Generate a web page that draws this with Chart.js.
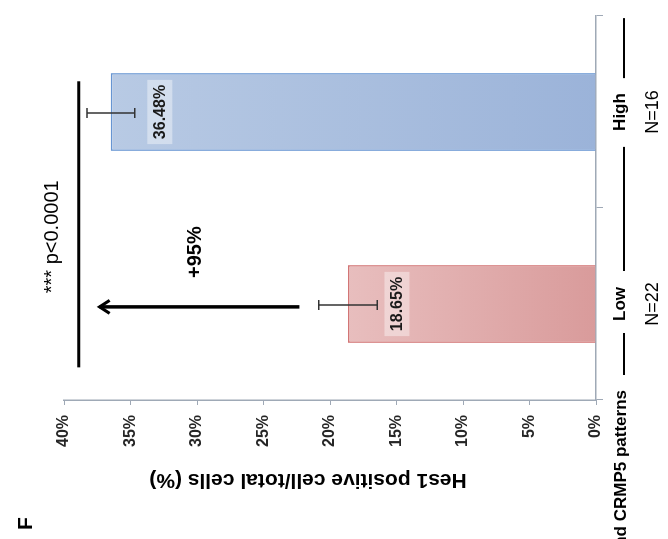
<!DOCTYPE html>
<html lang="en">
<head>
<meta charset="UTF-8">
<title>Hes1 positive cells by CRMP5 pattern</title>
<script src="https://cdn.jsdelivr.net/npm/chart.js"></script>
<style>
  html, body { margin: 0; padding: 0; background: #fff; overflow: hidden; }
  body { width: 668px; height: 539px; position: relative; }
  /* the figure is printed turned a quarter turn, so the chart is drawn upright and rotated */
  #wrap { position: absolute; left: 0; top: 0; width: 539px; height: 668px;
          transform-origin: 0 0; transform: translate(0, 539px) rotate(-90deg); }
</style>
</head>
<body>
<div id="wrap"><canvas id="chart" width="539" height="668"></canvas></div>
<script>
  // data
  const categories = ['Low', 'High'];
  const sampleSizes = ['N=22', 'N=16'];
  const values = [18.65, 36.48];
  const errors = [2.2, 1.8];
  const yMin = 0, yMax = 40, yStep = 5;

  // annotations (value / category units)
  const bracketValue = 38.9, bracketFrom = -0.33, bracketTo = 1.16;
  const pText = '*** p<0.0001', pTextAt = 0.35, pTextValue = 40.9;
  const arrowAt = -0.015, arrowFrom = 22.3, arrowTo = 37.4;
  const gainText = '+95%', gainAt = 0.27, gainValue = 30.15;

  const FONT = '"Liberation Sans", Arial, sans-serif';
  Chart.defaults.font.family = FONT;

  const fills = [['#e8bebe', '#d99b9b'], ['#b8cae4', '#9bb3d9']];
  const borders = ['#d27575', '#6795d2'];

  function barFill(ctx) {
    const chart = ctx.chart;
    const i = ctx.dataIndex;
    if (!chart.chartArea || !chart.scales.y) return fills[i][1];
    const top = chart.scales.y.getPixelForValue(values[i]);
    const g = chart.ctx.createLinearGradient(0, top, 0, chart.chartArea.bottom);
    g.addColorStop(0, fills[i][0]);
    g.addColorStop(1, fills[i][1]);
    return g;
  }

  const extras = {
    id: 'extras',
    afterDatasetsDraw(chart) {
      const { ctx, scales: { x, y } } = chart;
      ctx.save();
      // error bars
      ctx.strokeStyle = '#333';
      ctx.lineWidth = 1.5;
      values.forEach((v, i) => {
        const px = x.getPixelForValue(i) - 1;
        const t = y.getPixelForValue(v + errors[i]);
        const b = y.getPixelForValue(v - errors[i]);
        ctx.beginPath();
        ctx.moveTo(px, t); ctx.lineTo(px, b);
        ctx.moveTo(px - 5, t); ctx.lineTo(px + 5, t);
        ctx.moveTo(px - 5, b); ctx.lineTo(px + 5, b);
        ctx.stroke();
      });
      // value labels
      ctx.font = 'bold 16px ' + FONT;
      ctx.textAlign = 'center';
      ctx.textBaseline = 'middle';
      values.forEach((v, i) => {
        const px = x.getPixelForValue(i);
        const cy = y.getPixelForValue(v) + 49;
        const txt = v.toFixed(2) + '%';
        const w = ctx.measureText(txt).width + 10;
        ctx.fillStyle = 'rgba(255,255,255,0.4)';
        ctx.fillRect(px - w / 2, cy - 12.5, w, 25);
        ctx.fillStyle = '#1a1a1a';
        ctx.fillText(txt, px, cy + 1);
      });
      ctx.restore();
    },
    afterDraw(chart) {
      const { ctx, scales: { x, y } } = chart;
      ctx.save();
      ctx.fillStyle = '#000';
      ctx.strokeStyle = '#000';

      // significance bracket
      ctx.lineWidth = 3;
      const by = y.getPixelForValue(bracketValue);
      ctx.beginPath();
      ctx.moveTo(x.getPixelForValue(bracketFrom), by);
      ctx.lineTo(x.getPixelForValue(bracketTo), by);
      ctx.stroke();
      ctx.font = '20px ' + FONT;
      ctx.textAlign = 'center';
      ctx.textBaseline = 'middle';
      ctx.fillText(pText, x.getPixelForValue(pTextAt), y.getPixelForValue(pTextValue));

      // arrow
      const ax = x.getPixelForValue(arrowAt);
      const a0 = y.getPixelForValue(arrowFrom), a1 = y.getPixelForValue(arrowTo);
      ctx.lineWidth = 3.5;
      ctx.beginPath();
      ctx.moveTo(ax, a0); ctx.lineTo(ax, a1 + 1);
      ctx.stroke();
      ctx.lineWidth = 3;
      ctx.beginPath();
      ctx.moveTo(ax - 6.5, a1 + 11); ctx.lineTo(ax, a1 + 1); ctx.lineTo(ax + 6.5, a1 + 11);
      ctx.stroke();
      ctx.font = 'bold 20px ' + FONT;
      ctx.fillText(gainText, x.getPixelForValue(gainAt), y.getPixelForValue(gainValue));

      // sample sizes under category names
      ctx.font = '18px ' + FONT;
      sampleSizes.forEach((s, i) => ctx.fillText(s, x.getPixelForValue(i), 653));

      // dashes around the category names and the grouping caption
      ctx.font = 'bold 17px ' + FONT;
      const lowC = x.getPixelForValue(0), highC = x.getPixelForValue(1);
      const lowW = ctx.measureText(categories[0]).width;
      const highW = ctx.measureText(categories[1]).width;
      const capEnd = x.left + 10;
      ctx.textAlign = 'right';
      ctx.fillText('and CRMP5 patterns', capEnd, 621);
      ctx.lineWidth = 2;
      ctx.beginPath();
      ctx.moveTo(capEnd + 15, 624); ctx.lineTo(lowC - lowW / 2 - 12, 624);
      ctx.moveTo(lowC + lowW / 2 + 16, 624); ctx.lineTo(highC - highW / 2 - 16, 624);
      ctx.moveTo(highC + highW / 2 + 15, 624); ctx.lineTo(highC + highW / 2 + 75, 624);
      ctx.stroke();

      // value axis title
      ctx.save();
      ctx.translate(59, 308);
      ctx.rotate(-Math.PI / 2);
      ctx.textAlign = 'center';
      ctx.font = 'bold 21px ' + FONT;
      ctx.fillText('Hes1 positive cell/total cells (%)', 0, 0);
      ctx.restore();

      // panel letter
      ctx.textAlign = 'left';
      ctx.textBaseline = 'alphabetic';
      ctx.font = 'bold 21px ' + FONT;
      ctx.fillText('F', 9, 32);
      ctx.restore();
    }
  };

  new Chart(document.getElementById('chart'), {
    type: 'bar',
    data: {
      labels: categories,
      datasets: [{
        data: values,
        backgroundColor: barFill,
        borderColor: borders,
        borderWidth: 1.5,
        barPercentage: 0.405,
        categoryPercentage: 1
      }]
    },
    options: {
      responsive: false,
      animation: false,
      layout: { padding: { top: 64, right: 16, bottom: 0, left: 0 } },
      plugins: { legend: { display: false }, tooltip: { enabled: false } },
      scales: {
        x: {
          afterFit(s) { s.height = 72; },
          grid: { display: true, drawOnChartArea: false, tickLength: 7, color: '#9fa9b6' },
          border: { color: '#9fa9b6', width: 1.5 },
          ticks: { color: '#000', padding: 7, font: { size: 17, weight: 'bold' } }
        },
        y: {
          min: yMin,
          max: yMax,
          afterFit(s) { s.width = 139; },
          grid: { drawOnChartArea: false, tickLength: 5, color: '#9fa9b6' },
          border: { color: '#9fa9b6', width: 1.5 },
          ticks: {
            stepSize: yStep,
            padding: 10,
            color: '#262626',
            font: { size: 16, weight: 'bold' },
            callback: v => v + '%'
          }
        }
      }
    },
    plugins: [extras]
  });
</script>
</body>
</html>
